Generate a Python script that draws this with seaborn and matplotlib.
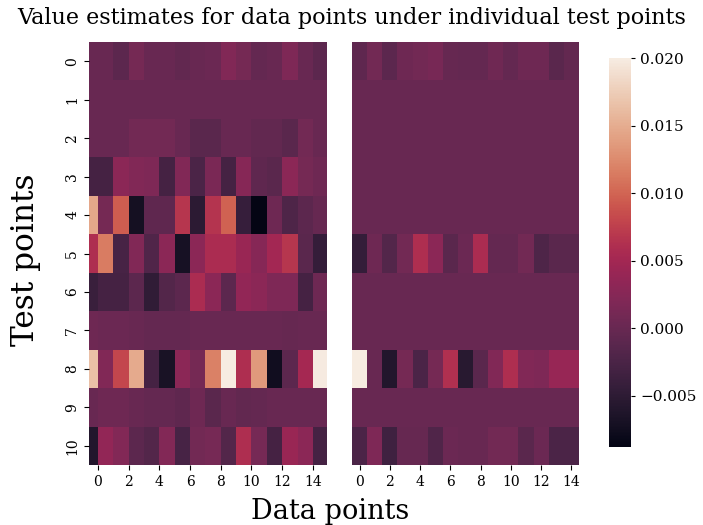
import numpy as np
import pandas as pd
import matplotlib
matplotlib.use("Agg")
import matplotlib.pyplot as plt
from matplotlib.colors import ListedColormap
import seaborn as sns

plt.rcParams['font.family'] = ['DejaVu Serif']

# Left heatmap: 16 visible column strips (first strip partially cropped)
left_vals = [
    [0.0, 0.0, -0.001, 0.001, 0.0, 0.0, -0.0005, 0.0, 0.0002, 0.002, 0.001, -0.0003, 0.0, 0.0018, 0.0, -0.001],
    [0.0, 0.0, 0.0, 0.0, 0.0, 0.0, 0.0, 0.0, 0.0, 0.0, 0.0, 0.0, 0.0, 0.0, 0.0, 0.0],
    [0.0, 0.0, 0.0, 0.0008, 0.0008, 0.0008, 0.0, -0.0012, -0.0012, 0.0, 0.0, -0.0005, -0.0005, -0.0012, 0.0008, 0.0],
    [-0.003, -0.003, 0.003, 0.002, 0.0018, -0.003, 0.002, -0.0025, 0.0015, -0.003, 0.0025, -0.0008, -0.0012, 0.003, 0.001, 0.0005],
    [0.0145, 0.001, 0.0095, -0.0072, -0.0008, -0.0008, 0.0068, -0.0052, 0.0065, 0.0098, -0.0042, -0.0088, 0.0005, -0.0022, -0.001, -0.0002],
    [0.006, 0.0115, -0.0028, 0.002, -0.002, 0.003, -0.007, 0.003, 0.0058, 0.0058, 0.0042, 0.0025, 0.005, 0.0068, -0.0012, -0.0045],
    [-0.004, -0.003, -0.003, -0.001, -0.0048, -0.0018, -0.001, 0.0058, 0.003, -0.001, 0.0035, 0.003, 0.0018, 0.0018, -0.003, 0.0005],
    [0.0005, 0.0003, 0.0003, 0.0, -0.0003, -0.0003, -0.0003, 0.0, 0.0, 0.0, 0.0, 0.0, 0.0, -0.0002, 0.0, 0.0],
    [0.0165, 0.002, 0.008, 0.0148, -0.003, -0.0068, 0.003, 0.001, 0.0118, 0.020, 0.006, 0.0135, -0.0075, -0.001, 0.0052, 0.0198],
    [0.0, 0.0005, 0.0005, 0.0, -0.0003, -0.0003, -0.0008, 0.0005, -0.0012, 0.0, -0.0005, -0.0003, 0.0, 0.0, 0.0, 0.0],
    [-0.006, 0.0035, 0.0022, -0.001, -0.0018, 0.0022, -0.0028, 0.0008, 0.0012, -0.0018, 0.006, 0.0012, -0.003, 0.0042, 0.003, -0.003],
]

right_vals = [
    [-0.0008, 0.0008, -0.001, 0.0005, 0.0008, 0.0013, -0.0002, -0.0003, -0.0003, 0.0006, -0.0003, 0.0005, 0.0005, -0.0012, -0.0004],
    [0.0] * 15,
    [0.0] * 15,
    [0.0] * 15,
    [0.0] * 15,
    [-0.0045, 0.0005, -0.0018, 0.0008, 0.006, 0.003, -0.0012, 0.0002, 0.0058, -0.0003, -0.0003, 0.0008, -0.0022, -0.0012, -0.0012],
    [0.0] * 15,
    [0.0] * 15,
    [0.020, 0.0, -0.006, 0.001, -0.0025, 0.001, 0.0062, -0.0055, -0.0012, 0.002, 0.006, 0.002, 0.0018, 0.004, 0.004],
    [0.0] * 15,
    [-0.0025, 0.0018, -0.0035, -0.0002, -0.0002, -0.002, 0.0002, 0.0, 0.0, 0.0008, 0.0008, -0.0012, 0.0003, -0.0025, -0.0025],
]

test_points = list(range(11))
data_tick_labels = [0, 2, 4, 6, 8, 10, 12, 14]

left_df = pd.DataFrame(left_vals, index=test_points)
right_df = pd.DataFrame(right_vals, index=test_points)

vmin = min(left_df.values.min(), right_df.values.min())
vmax = max(left_df.values.max(), right_df.values.max())

W, H = 703, 525
fig = plt.figure(figsize=(W / 100, H / 100), dpi=100)

def box(x0, y0, x1, y1):
    return [x0 / W, 1 - y1 / H, (x1 - x0) / W, (y1 - y0) / H]

ax1 = fig.add_axes(box(89, 42, 327, 465))
ax2 = fig.add_axes(box(352, 42, 579, 465))
cax = fig.add_axes(box(609, 58, 631, 447))

# rocket palette, muted toward its luminance as in the reference rendering
base = np.array(sns.color_palette("rocket", 256))
lum = (base @ np.array([0.299, 0.587, 0.114]))[:, None]
muted = np.clip(lum + 0.72 * (base - lum), 0, 1)
cmap = ListedColormap(muted)

sns.heatmap(left_df, ax=ax1, cmap=cmap, vmin=vmin, vmax=vmax, cbar=False,
            xticklabels=False, yticklabels=True)
sns.heatmap(right_df, ax=ax2, cmap=cmap, vmin=vmin, vmax=vmax, cbar=True, cbar_ax=cax,
            xticklabels=False, yticklabels=False)

# left panel: strips offset so that tick i sits at the left edge of strip i+1
ax1.set_xlim(0.42, 15.92)
ax1.set_xticks([d + 1 for d in data_tick_labels])
ax1.set_xticklabels([str(d) for d in data_tick_labels], rotation=0, fontsize=10)
ax1.set_yticks([t + 0.5 for t in test_points])
ax1.set_yticklabels([str(t) for t in test_points], rotation=90, va='center', fontsize=10)
ax1.set_xlabel("")
ax1.set_ylabel("")

ax2.set_xticks([d + 0.5 for d in data_tick_labels])
ax2.set_xticklabels([str(d) for d in data_tick_labels], rotation=0, fontsize=10)
ax2.set_yticks([])
ax2.set_xlabel("")
ax2.set_ylabel("")

cax.set_yticks([-0.005, 0.0, 0.005, 0.010, 0.015, 0.020])
cax.set_yticklabels(["\u22120.005", "0.000", "0.005", "0.010", "0.015", "0.020"], fontsize=11)
cax.tick_params(length=3)

fig.text(352 / W, 1 - 18 / H, "Value estimates for data points under individual test points",
         ha='center', va='center', fontsize=16)
fig.text(330 / W, 6 / H, "Data points", ha='center', va='baseline', fontsize=19.5)
fig.text(26 / W, 1 - 260 / H, "Test points", ha='center', va='center', rotation=90, fontsize=22.5)

fig.savefig("out.png", dpi=100)
